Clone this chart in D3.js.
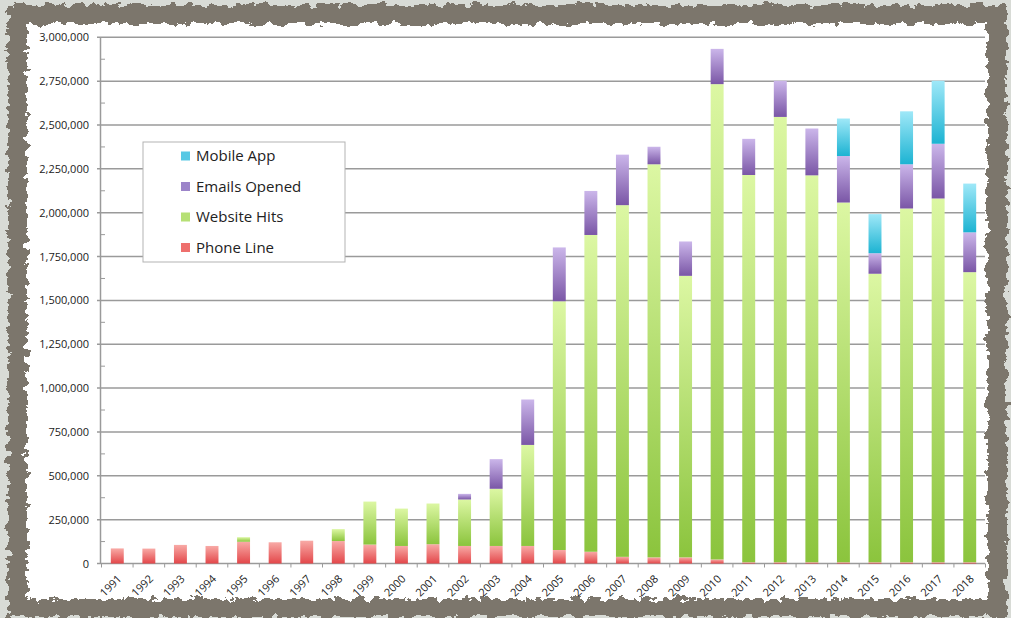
<!DOCTYPE html>
<html>
<head>
<meta charset="utf-8">
<script src="https://cdn.jsdelivr.net/npm/d3@7"></script>
<style>
  body { margin: 0; background: #d8dbd6; }
  svg { display: block; font-family: "Open Sans", sans-serif; }
</style>
</head>
<body>
<div id="chart"></div>
<script>
var years = ["1991","1992","1993","1994","1995","1996","1997","1998","1999","2000",
  "2001","2002","2003","2004","2005","2006","2007","2008","2009","2010",
  "2011","2012","2013","2014","2015","2016","2017","2018"];

var phoneLine = [86000, 85000, 106000, 100000, 124000, 121000, 130000, 128000, 108000, 100000,
  110000, 100000, 100000, 100000, 77000, 67000, 38000, 35000, 35000, 23000,
  7000, 7000, 7000, 7000, 7000, 7000, 7000, 7000];

var websiteHits = [0, 0, 0, 0, 26000, 0, 0, 68000, 245000, 213000,
  232000, 265000, 326000, 576000, 1418000, 1806000, 2005000, 2241000, 1605000, 2710000,
  2208000, 2539000, 2206000, 2051000, 1645000, 2017000, 2074000, 1654000];

var emailsOpened = [0, 0, 0, 0, 0, 0, 0, 0, 0, 0,
  0, 32000, 169000, 259000, 307000, 251000, 288000, 100000, 196000, 201000,
  206000, 206000, 267000, 265000, 117000, 252000, 312000, 227000];

var mobileApp = [0, 0, 0, 0, 0, 0, 0, 0, 0, 0,
  0, 0, 0, 0, 0, 0, 0, 0, 0, 0,
  0, 0, 0, 214000, 223000, 302000, 359000, 278000];

var seriesNames = ["Phone Line", "Website Hits", "Emails Opened", "Mobile App"];
var yTicks = [0, 250000, 500000, 750000, 1000000, 1250000, 1500000, 1750000,
  2000000, 2250000, 2500000, 2750000, 3000000];

var width = 1011, height = 618;

var svg = d3.select("#chart").append("svg")
  .attr("width", width)
  .attr("height", height);

var defs = svg.append("defs");

// rough edge for the frame
var rough = defs.append("filter").attr("id", "rough")
  .attr("x", "-5%").attr("y", "-5%").attr("width", "110%").attr("height", "110%");
rough.append("feTurbulence").attr("type", "fractalNoise")
  .attr("baseFrequency", "0.11 0.14").attr("numOctaves", 3).attr("seed", 7).attr("result", "n");
rough.append("feDisplacementMap").attr("in", "SourceGraphic").attr("in2", "n")
  .attr("scale", 13).attr("xChannelSelector", "R").attr("yChannelSelector", "G");

// gradients, one per series
var grads = {
  "Phone Line": ["#f8aaa6", "#e3474a"],
  "Website Hits": ["#dcf7a3", "#8bc43d"],
  "Emails Opened": ["#cbb6ea", "#7a56a6"],
  "Mobile App": ["#9fe8f8", "#1cb3d2"]
};
var swatch = {
  "Phone Line": "#ee6f6d",
  "Website Hits": "#b6e075",
  "Emails Opened": "#9c84c9",
  "Mobile App": "#58c8e4"
};
seriesNames.forEach(function (s, i) {
  var g = defs.append("linearGradient").attr("id", "g" + i)
    .attr("x1", 0).attr("y1", 0).attr("x2", 0).attr("y2", 1);
  g.append("stop").attr("offset", "0%").attr("stop-color", grads[s][0]);
  g.append("stop").attr("offset", "100%").attr("stop-color", grads[s][1]);
});

// frame
svg.append("rect").attr("width", width).attr("height", height).attr("fill", "#d8dbd6");
svg.append("rect").attr("x", 8).attr("y", 5).attr("width", 999).attr("height", 612)
  .attr("fill", "#7b766c").attr("filter", "url(#rough)");
svg.append("rect").attr("x", 27).attr("y", 24).attr("width", 960).attr("height", 575)
  .attr("fill", "#ffffff").attr("filter", "url(#rough)");

// scales
var x = d3.scaleBand().domain(years).range([101.5, 985.5])
  .paddingInner(0.59).paddingOuter(0.295);
var y = d3.scaleLinear().domain([0, 3000000]).range([563.5, 37.3]);

var data = years.map(function (yr, i) {
  return {
    year: yr,
    "Phone Line": phoneLine[i],
    "Website Hits": websiteHits[i],
    "Emails Opened": emailsOpened[i],
    "Mobile App": mobileApp[i]
  };
});
var stacked = d3.stack().keys(seriesNames)(data);

// gridlines
svg.append("g").selectAll("line").data(yTicks).join("line")
  .attr("x1", 97).attr("x2", 985)
  .attr("y1", function (d) { return y(d); })
  .attr("y2", function (d) { return y(d); })
  .attr("stroke", "#9a9a9a").attr("stroke-width", 1.5);

// y axis
var yAxis = svg.append("g").attr("transform", "translate(100,0)")
  .call(d3.axisLeft(y).tickValues(yTicks).tickSize(0).tickPadding(11)
    .tickFormat(d3.format(",")));
yAxis.select(".domain").attr("stroke", "#9a9a9a").attr("stroke-width", 1.5);
yAxis.selectAll("text").attr("font-size", 11).attr("fill", "#222")
  .attr("font-family", "'Open Sans', sans-serif");

// minor ticks
svg.append("g").selectAll("line").data(yTicks.slice(1)).join("line")
  .attr("x1", 100).attr("x2", 105)
  .attr("y1", function (d) { return y(d - 125000); })
  .attr("y2", function (d) { return y(d - 125000); })
  .attr("stroke", "#9a9a9a").attr("stroke-width", 1);

// bars
svg.append("g").selectAll("g").data(stacked).join("g")
  .attr("fill", function (d, i) { return "url(#g" + i + ")"; })
  .selectAll("rect").data(function (d) { return d.filter(function (p) { return p[1] - p[0] > 0; }); })
  .join("rect")
  .attr("x", function (d) { return x(d.data.year); })
  .attr("width", x.bandwidth())
  .attr("y", function (d) { return y(d[1]); })
  .attr("height", function (d) { return y(d[0]) - y(d[1]); });

// x axis ticks at category boundaries
svg.append("g").selectAll("line").data(d3.range(years.length + 1)).join("line")
  .attr("x1", function (i) { return 101.5 + i * x.step(); })
  .attr("x2", function (i) { return 101.5 + i * x.step(); })
  .attr("y1", y(0)).attr("y2", y(0) + 4)
  .attr("stroke", "#9a9a9a").attr("stroke-width", 1);

svg.append("g").selectAll("text").data(years).join("text")
  .attr("transform", function (d) {
    return "translate(" + (x(d) + x.bandwidth() / 2 + 5) + "," + (y(0) + 16) + ") rotate(-45)";
  })
  .attr("text-anchor", "end")
  .attr("font-size", 11)
  .attr("fill", "#222")
  .text(function (d) { return d; });

// legend
var legend = svg.append("g");
legend.append("rect").attr("x", 143).attr("y", 142).attr("width", 202).attr("height", 120)
  .attr("fill", "#fff").attr("stroke", "#b3b3b3").attr("stroke-width", 1);
var legendOrder = seriesNames.slice().reverse();
var items = legend.selectAll("g").data(legendOrder).join("g")
  .attr("transform", function (d, i) { return "translate(181," + (156 + i * 30.5) + ")"; });
items.append("rect").attr("x", 0).attr("y", -4.5).attr("width", 9).attr("height", 9)
  .attr("fill", function (d) { return swatch[d]; });
items.append("text").attr("x", 15).attr("dy", "0.35em")
  .attr("font-size", 15).attr("fill", "#222")
  .text(function (d) { return d; });
</script>
</body>
</html>
